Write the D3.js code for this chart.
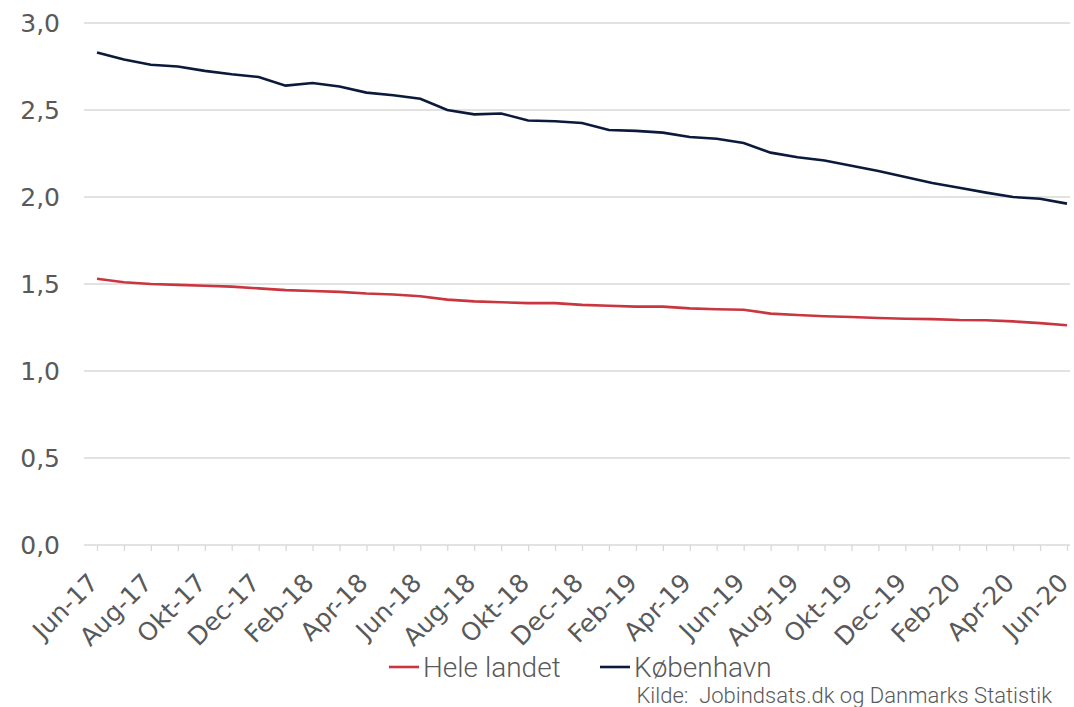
<!DOCTYPE html>
<html>
<head>
<meta charset="utf-8">
<script src="https://cdn.jsdelivr.net/npm/d3@7"></script>
<style>
  body { margin: 0; background: #fff; }
  svg text { font-family: "Lato", "Open Sans", sans-serif; fill: #595959; }
</style>
</head>
<body>
<svg id="chart" width="1074" height="707"></svg>
<script>
(function () {
    'use strict';

    var months = ['Jun-17','Jul-17','Aug-17','Sep-17','Okt-17','Nov-17','Dec-17',
        'Jan-18','Feb-18','Mar-18','Apr-18','Maj-18','Jun-18','Jul-18','Aug-18','Sep-18','Okt-18','Nov-18','Dec-18',
        'Jan-19','Feb-19','Mar-19','Apr-19','Maj-19','Jun-19','Jul-19','Aug-19','Sep-19','Okt-19','Nov-19','Dec-19',
        'Jan-20','Feb-20','Mar-20','Apr-20','Maj-20','Jun-20'];

    var heleLandet = [1.53,1.51,1.50,1.495,1.49,1.485,1.475,1.465,1.46,1.455,1.445,1.44,1.43,
        1.41,1.40,1.395,1.39,1.39,1.38,1.375,1.37,1.37,1.36,1.355,1.352,
        1.33,1.322,1.315,1.31,1.305,1.30,1.298,1.293,1.292,1.285,1.275,1.263];

    var kobenhavn = [2.83,2.79,2.76,2.75,2.725,2.705,2.69,2.64,2.655,2.635,2.60,2.585,2.565,
        2.50,2.475,2.48,2.44,2.435,2.425,2.385,2.38,2.37,2.345,2.335,2.31,
        2.255,2.228,2.21,2.18,2.15,2.115,2.08,2.053,2.025,2.00,1.99,1.962];

    var yTicks = [0, 0.5, 1.0, 1.5, 2.0, 2.5, 3.0];

    var svg = d3.select('#chart');
    var left = 84, right = 1070, top = 23, bottom = 545;

    var x = d3.scalePoint().domain(months).range([97, 1067]);
    var y = d3.scaleLinear().domain([0, 3]).range([bottom, top]);

    // gridlines
    svg.append('g').selectAll('line')
        .data(yTicks)
        .enter().append('line')
        .attr('x1', left).attr('x2', right)
        .attr('y1', function (d) { return y(d); })
        .attr('y2', function (d) { return y(d); })
        .style('stroke', '#d9d9d9')
        .style('stroke-width', 1.3);

    // y labels
    svg.append('g').selectAll('text')
        .data(yTicks)
        .enter().append('text')
        .attr('x', 60)
        .attr('y', function (d) { return y(d); })
        .attr('dy', '0.35em')
        .attr('text-anchor', 'end')
        .style('font-family', '"DejaVu Sans", sans-serif')
        .style('font-size', '25px')
        .text(function (d) { return d3.format('.1f')(d).replace('.', ','); });

    // x axis ticks
    var xAxis = svg.append('g')
        .attr('transform', 'translate(0,' + bottom + ')')
        .call(d3.axisBottom(x).tickSize(6).tickFormat(function (d, i) { return i % 2 === 0 ? d : ''; }));
    xAxis.select('.domain').remove();
    xAxis.selectAll('line').style('stroke', '#d9d9d9').style('stroke-width', 1.3);
    xAxis.selectAll('text')
        .style('font-family', '"DejaVu Sans", sans-serif')
        .style('font-size', '25px')
        .attr('text-anchor', 'end')
        .attr('x', 0).attr('y', 0)
        .attr('dy', '0.35em')
        .attr('transform', 'translate(-4,33) rotate(-45)');

    var line = d3.line()
        .x(function (d, i) { return x(months[i]); })
        .y(function (d) { return y(d); });

    svg.append('path')
        .datum(heleLandet)
        .attr('d', line)
        .style('fill', 'none')
        .style('stroke', '#c9363f')
        .style('stroke-width', 2.6);

    svg.append('path')
        .datum(kobenhavn)
        .attr('d', line)
        .style('fill', 'none')
        .style('stroke', '#0b1a3a')
        .style('stroke-width', 2.6);

    // legend
    var legend = [
        { name: 'Hele landet', color: '#c9363f', x: 389 },
        { name: 'København', color: '#0b1a3a', x: 600 }
    ];
    var lg = svg.append('g').selectAll('g')
        .data(legend)
        .enter().append('g')
        .attr('transform', function (d) { return 'translate(' + d.x + ',667)'; });
    lg.append('line')
        .attr('x1', 0).attr('x2', 30)
        .style('stroke', function (d) { return d.color; })
        .style('stroke-width', 2.6);
    lg.append('text')
        .attr('x', 34)
        .attr('dy', '0.35em')
        .style('font-family', 'Roboto, sans-serif')
        .style('font-size', '28px')
        .style('font-weight', 300)
        .text(function (d) { return d.name; });

    svg.append('text')
        .attr('x', 1052)
        .attr('y', 703)
        .attr('text-anchor', 'end')
        .style('font-family', 'Roboto, sans-serif')
        .style('font-size', '22px')
        .style('font-weight', 300)
        .style('white-space', 'pre')
        .text('Kilde:  Jobindsats.dk og Danmarks Statistik');
}());
</script>
</body>
</html>
